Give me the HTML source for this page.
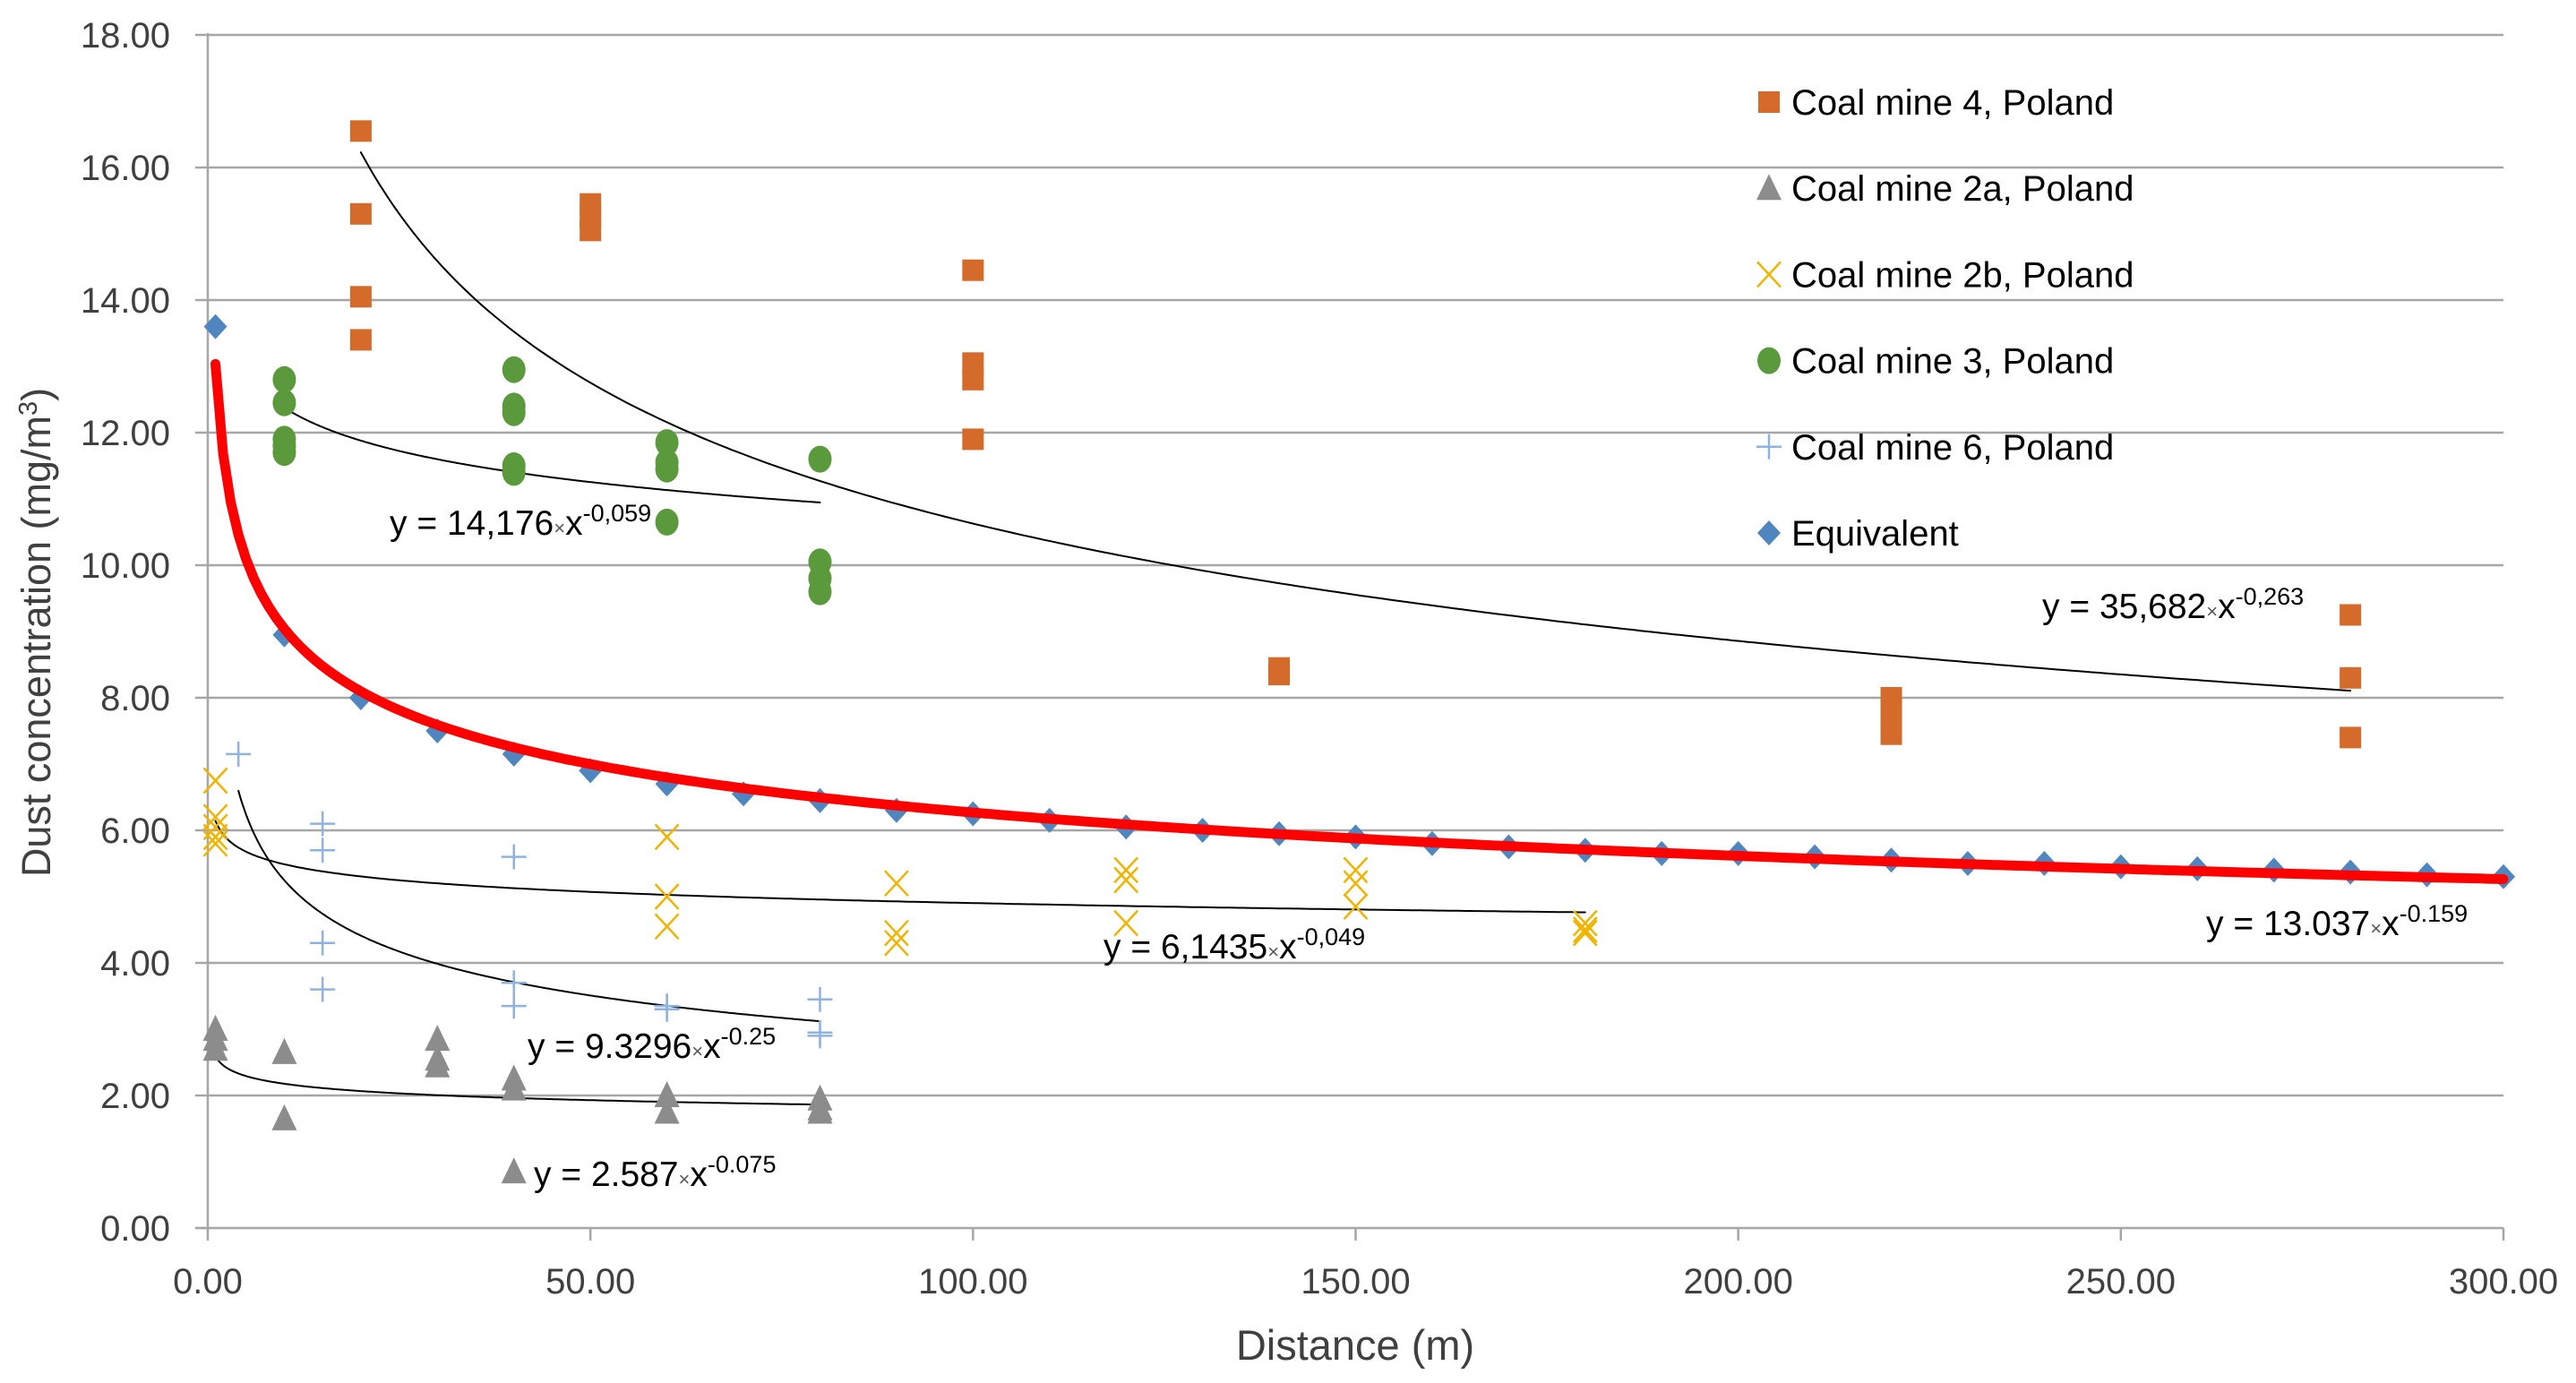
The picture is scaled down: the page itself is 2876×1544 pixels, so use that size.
<!DOCTYPE html>
<html><head><meta charset="utf-8"><style>
html,body{margin:0;padding:0;background:#fff;}
svg{display:block;font-family:"Liberation Sans",Arial,sans-serif;}
</style></head><body>
<svg id="chart" width="2876" height="1544" viewBox="0 0 2876 1544">
<g id="grid"></g>
<g id="axes"></g>
<g id="trends"></g>
<g id="marks"></g>
<g id="legend"></g>
<g id="labels"></g>
<text x="1513" y="1518" font-size="47" fill="#404040" text-anchor="middle">Distance (m)</text>
<text transform="translate(56,706) rotate(-90)" font-size="45" fill="#404040" text-anchor="middle">Dust concentration (mg/m<tspan font-size="29" dy="-15">3</tspan><tspan dy="15">)</tspan></text>
</svg>
<script>
const xTicks=[0,50,100,150,200,250,300];
const yTicks=[0,2,4,6,8,10,12,14,16,18];
const mine4X=[20,20,20,20,50,50,50,100,100,100,100,140,140,220,220,220,280,280,280];
const mine4Y=[16.55,15.3,14.05,13.4,15.45,15.25,15.05,14.45,13.05,12.8,11.9,8.45,8.35,8.0,7.7,7.45,9.25,8.3,7.4];
const mine2aX=[1,1,1,10,10,30,30,30,40,40,40,60,60,80,80,80];
const mine2aY=[3.0,2.85,2.7,2.65,1.65,2.85,2.55,2.45,2.25,2.1,0.85,2.0,1.75,1.95,1.8,1.75];
const mine2bX=[1,1,1,1,1,60,60,60,90,90,90,120,120,120,150,150,150,180,180,180];
const mine2bY=[6.75,6.2,6.05,5.9,5.8,5.9,5.0,4.55,5.2,4.45,4.3,5.4,5.25,4.6,5.4,5.2,4.85,4.6,4.5,4.45];
const mine3X=[10,10,10,10,10,40,40,40,40,40,60,60,60,60,80,80,80,80];
const mine3Y=[12.8,12.45,11.9,11.8,11.7,12.95,12.4,12.3,11.5,11.4,11.85,11.55,11.45,10.65,11.6,10.05,9.8,9.6];
const mine6X=[4,15,15,15,15,40,40,40,60,60,80,80,80];
const mine6Y=[7.15,6.1,5.7,4.3,3.6,5.6,3.7,3.35,3.35,3.3,3.45,2.95,2.9];
const equivX=[1,10,20,30,40,50,60,70,80,90,100,110,120,130,140,150,160,170,180,190,200,210,220,230,240,250,260,270,280,290,300];
const equivY=[13.6,8.95,8.0,7.5,7.15,6.9,6.7,6.55,6.45,6.3,6.25,6.15,6.05,6.0,5.95,5.9,5.8,5.75,5.7,5.65,5.65,5.6,5.55,5.5,5.5,5.45,5.42,5.4,5.37,5.33,5.3];
// trendline coefficients a*x^b, and x ranges
const trendA=[35.682,14.176,6.1435,9.3296,2.587,13.037];
const trendB=[-0.263,-0.059,-0.049,-0.25,-0.075,-0.159];
const trendX0=[20,10,1,4,1,1];
const trendX1=[280,80,180,80,80,300];

const NS='http://www.w3.org/2000/svg';
const X0=232,X1=2795,Y0=1371,Y18=39;
const sx=v=>X0+(v/300)*(X1-X0);
const sy=v=>Y0-(v/18)*(Y0-Y18);
function mk(tag,attrs,parent){const e=document.createElementNS(NS,tag);for(const k in attrs)e.setAttribute(k,attrs[k]);parent.appendChild(e);return e;}
const grid=document.getElementById('grid'),axes=document.getElementById('axes');
yTicks.forEach(t=>{
  if(t>0){const l=mk('line',{x1:X0,x2:X1,y1:sy(t),y2:sy(t),stroke:'#a6a6a6','stroke-width':2.5},grid);
  
  }
  const tk=mk('line',{x1:X0-14,x2:X0,y1:sy(t),y2:sy(t),stroke:'#a6a6a6','stroke-width':2.5},axes);
  
  
  const tx=mk('text',{x:190,y:sy(t)+14,'font-size':40,fill:'#404040','text-anchor':'end'},axes);
  tx.textContent=t.toFixed(2);
  
  
});
xTicks.forEach(t=>{
  const tk=mk('line',{x1:sx(t),x2:sx(t),y1:Y0,y2:Y0+14,stroke:'#a6a6a6','stroke-width':2.5},axes);
  
  
  const tx=mk('text',{x:sx(t),y:1444,'font-size':40,fill:'#404040','text-anchor':'middle'},axes);
  tx.textContent=t.toFixed(2);
  
  
});
const ya=mk('line',{x1:X0,x2:X0,y1:Y18-2,y2:Y0,stroke:'#a6a6a6','stroke-width':2.5},axes);


const xa=mk('line',{x1:X0-14,x2:X1,y1:Y0,y2:Y0,stroke:'#a6a6a6','stroke-width':2.5},axes);



const marks=document.getElementById('marks');
function marker(type,cx,cy,parent){
  let e;
  if(type==='sq') e=mk('rect',{x:cx-12,y:cy-12,width:24,height:24,fill:'#d46b2a'},parent);
  else if(type==='tri') e=mk('polygon',{points:`${cx},${cy-16} ${cx+14},${cy+13} ${cx-14},${cy+13}`,fill:'#8c8c8c'},parent);
  else if(type==='x') e=mk('path',{d:`M${cx-13},${cy-14}L${cx+13},${cy+14}M${cx+13},${cy-14}L${cx-13},${cy+14}`,stroke:'#f0b400','stroke-width':2.5,fill:'none'},parent);
  else if(type==='circ') e=mk('ellipse',{cx:cx,cy:cy,rx:13,ry:15,fill:'#5b9a3c'},parent);
  else if(type==='plus') e=mk('path',{d:`M${cx-14},${cy}L${cx+14},${cy}M${cx},${cy-14}L${cx},${cy+14}`,stroke:'#8fb3e0','stroke-width':2.5,fill:'none'},parent);
  else e=mk('polygon',{points:`${cx},${cy-14} ${cx+13},${cy} ${cx},${cy+14} ${cx-13},${cy}`,fill:'#4f86bf'},parent);
  return e;
}
const series=[['sq',mine4X,mine4Y,'coal-mine-4-point'],['tri',mine2aX,mine2aY,'coal-mine-2a-point'],['x',mine2bX,mine2bY,'coal-mine-2b-point'],['circ',mine3X,mine3Y,'coal-mine-3-point'],['plus',mine6X,mine6Y,'coal-mine-6-point'],['dia',equivX,equivY,'equivalent-point']];
series.forEach(s=>{s[1].forEach((xv,i)=>{
  const e=marker(s[0],sx(xv),sy(s[2][i]),marks);
  
  
});});

const trends=document.getElementById('trends');
trendA.forEach((a,k)=>{
  let d='';const n=300;
  for(let i=0;i<=n;i++){const xv=trendX0[k]+(trendX1[k]-trendX0[k])*i/n;d+=(i?'L':'M')+sx(xv).toFixed(1)+','+sy(a*Math.pow(xv,trendB[k])).toFixed(1);}
  const red=k===5;
  const p=mk('path',{d:d,fill:'none',stroke:red?'#ff0000':'#000','stroke-width':red?11:2,'stroke-linecap':'round'},red?marks:trends);
  
  
});

const legend=document.getElementById('legend');
const legNames=['Coal mine 4, Poland','Coal mine 2a, Poland','Coal mine 2b, Poland','Coal mine 3, Poland','Coal mine 6,  Poland','Equivalent'];
const legTypes=['sq','tri','x','circ','plus','dia'];
legNames.forEach((nm,i)=>{
  const y=114+i*96.2;
  const m=marker(legTypes[i],1975,y,legend);
  
  
  const t=mk('text',{x:2000,y:y+14,'font-size':40,fill:'#000','xml:space':'preserve'},legend);
  t.textContent=nm;
  
  
});

const labels=document.getElementById('labels');
const eqs=[['14,176','-0,059',435,597],['35,682','-0,263',2280,690],['6,1435','-0,049',1232,1070],['13.037','-0.159',2463,1044],['9.3296','-0.25',589,1181],['2.587','-0.075',596,1324]];
eqs.forEach(q=>{
  const t=mk('text',{x:q[2],y:q[3],'font-size':39,fill:'#000'},labels);
  t.innerHTML=`y = ${q[0]}<tspan font-size="22" fill="#555">×</tspan>x<tspan font-size="27" dy="-15">${q[1]}</tspan>`;
  
  
});
</script>
</body></html>
